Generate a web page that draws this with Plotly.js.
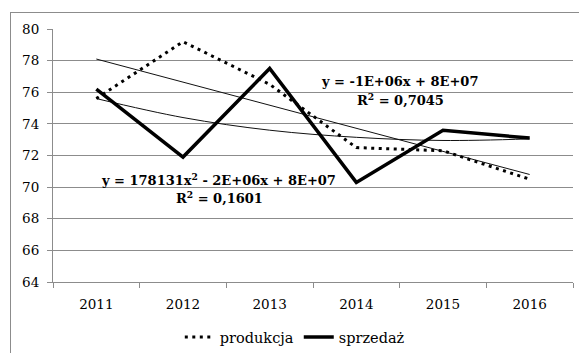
<!DOCTYPE html>
<html>
<head>
<meta charset="utf-8">
<script src="https://cdn.plot.ly/plotly-3.0.1.min.js"></script>
<style>
html,body{margin:0;padding:0;background:#fff;}
#wrap{position:relative;width:579px;height:353px;overflow:hidden;}
#chart{width:579px;height:353px;}
#frame{position:absolute;left:10px;top:12px;width:600px;height:400px;border-left:1px solid #8c8c8c;border-top:1px solid #8c8c8c;pointer-events:none;}
</style>
</head>
<body>
<div id="wrap"><div id="chart"></div><div id="frame"></div></div>
<script>
var years = ['2011', '2012', '2013', '2014', '2015', '2016'];
var produkcja = [75.6, 79.2, 76.5, 72.5, 72.3, 70.5];
var sprzedaz = [76.2, 71.9, 77.5, 70.3, 73.6, 73.1];
// trend lines
var linearTrendYears = ['2011', '2016'];
var linearTrend = [78.1, 70.8];
var polyTrend = [75.6, 74.4, 73.6, 73.15, 72.95, 73.05];
var yTicks = [64, 66, 68, 70, 72, 74, 76, 78, 80];
var labelLinear = ['y = -1E+06x + 8E+07', 'R<sup>2</sup> = 0,7045'];
var labelPoly = ['y = 178131x<sup>2</sup> - 2E+06x + 8E+07', 'R<sup>2</sup> = 0,1601'];

var serif = 'DejaVu Serif, Liberation Serif, serif';

var traces = [
  {x: years, y: polyTrend, mode: 'lines', line: {color: '#111', width: 1, shape: 'spline'}, showlegend: false, hoverinfo: 'skip'},
  {x: linearTrendYears, y: linearTrend, mode: 'lines', line: {color: '#111', width: 1}, showlegend: false, hoverinfo: 'skip'},
  {x: years, y: produkcja, name: 'produkcja', mode: 'lines', line: {color: '#000', width: 3, dash: '3px,4.5px'}},
  {x: years, y: sprzedaz, name: 'sprzedaż', mode: 'lines', line: {color: '#000', width: 3.5}}
];

var annFont = {family: serif, size: 13, color: '#000', weight: 'bold'};
function ann(text, x, y) {
  return {text: '<b>' + text + '</b>', x: x, y: y, xref: 'paper', yref: 'paper', xanchor: 'center', yanchor: 'middle', showarrow: false, font: annFont};
}

var layout = {
  width: 579, height: 353,
  margin: {l: 53, r: 6, t: 29, b: 71, autoexpand: false},
  paper_bgcolor: '#fff', plot_bgcolor: '#fff',
  font: {family: serif, size: 13, color: '#000'},
  xaxis: {
    type: 'category', range: [-0.5, 5.5], tickson: 'boundaries',
    ticks: 'outside', ticklen: 5, tickcolor: '#8c8c8c', tickwidth: 1,
    showline: true, linecolor: '#8c8c8c', linewidth: 1,
    showgrid: false, zeroline: false, fixedrange: true, automargin: false,
    ticklabelstandoff: 10,
    tickfont: {family: serif, size: 13.5, color: '#000'}
  },
  yaxis: {
    range: [64, 80], tickvals: yTicks, ticktext: yTicks.map(String),
    ticks: 'outside', ticklen: 5, tickcolor: '#8c8c8c', tickwidth: 1,
    showline: true, linecolor: '#8c8c8c', linewidth: 1,
    showgrid: true, gridcolor: '#8c8c8c', gridwidth: 1, zeroline: false, automargin: false,
    ticklabelstandoff: 5,
    tickfont: {family: serif, size: 13.5, color: '#000'}
  },
  showlegend: true,
  legend: {orientation: 'h', x: 0.465, xanchor: 'center', y: -0.218, yanchor: 'middle',
    font: {family: serif, size: 14.5, color: '#000'}, bgcolor: 'rgba(0,0,0,0)', traceorder: 'normal'},
  annotations: [
    ann(labelLinear[0], 0.666, 0.7926),
    ann(labelLinear[1], 0.668, 0.7201),
    ann(labelPoly[0], 0.3185, 0.4036),
    ann(labelPoly[1], 0.3195, 0.3324)
  ]
};

Plotly.newPlot('chart', traces, layout, {displayModeBar: false, staticPlot: true});
</script>
</body>
</html>
